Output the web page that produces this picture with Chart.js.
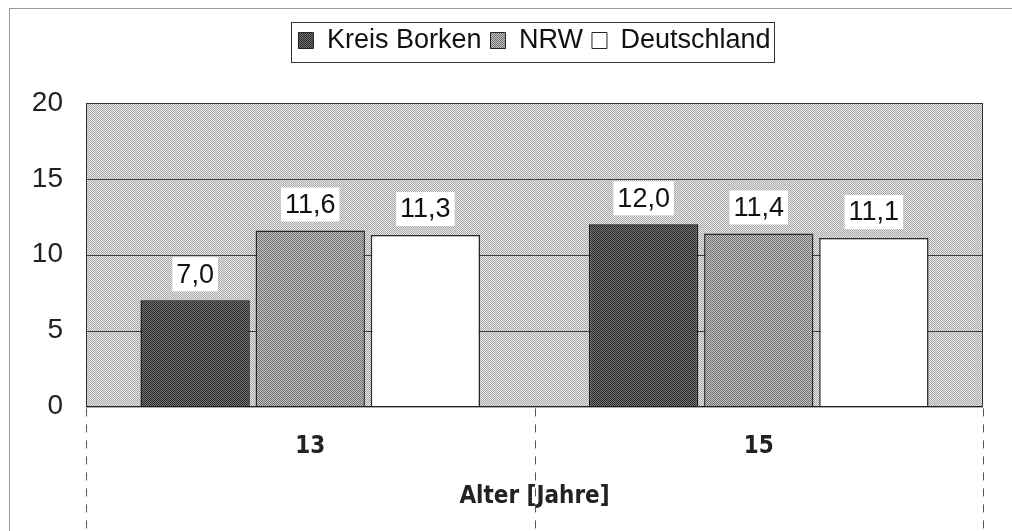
<!DOCTYPE html>
<html>
<head>
<meta charset="utf-8">
<script src="https://cdn.jsdelivr.net/npm/chart.js@4"></script>
<style>
html,body{margin:0;padding:0;background:#fff;}
#wrap{position:relative;width:1012px;height:531px;}
#frame{position:absolute;left:9px;top:8px;width:1010px;height:540px;border-left:1px solid #999;border-top:1px solid #999;pointer-events:none;}
canvas{position:absolute;left:0;top:0;}
</style>
</head>
<body>
<div id="wrap"><canvas id="c" width="1012" height="531"></canvas><div id="frame"></div></div>
<script>
const categories = ['13', '15'];
const seriesNames = ['Kreis Borken', 'NRW', 'Deutschland'];
const kreisBorken = [7.0, 12.0];
const nrw = [11.6, 11.4];
const deutschland = [11.3, 11.1];
const yTicks = [0, 5, 10, 15, 20];
const xTitle = 'Alter [Jahre]';

const SANS = '"Liberation Sans", Arial, sans-serif';
const NARROW = '"DejaVu Sans Condensed", "Liberation Sans", Arial, sans-serif';

function makePattern(a, b) {
  const p = document.createElement('canvas');
  p.width = 2; p.height = 2;
  const g = p.getContext('2d');
  g.fillStyle = a; g.fillRect(0, 0, 2, 2);
  g.fillStyle = b; g.fillRect(0, 0, 1, 1); g.fillRect(1, 1, 1, 1);
  return document.getElementById('c').getContext('2d').createPattern(p, 'repeat');
}
const bgPattern = makePattern('#e6e6e6', '#a9a9a9');
const darkPattern = makePattern('#747474', '#2a2a2a');
const midPattern = makePattern('#c4c4c4', '#707070');

const LEGEND_HEIGHT = 85;

const plotDeco = {
  id: 'plotDeco',
  beforeInit(chart) {
    const lg = chart.legend;
    if (lg) {
      const orig = lg.fit.bind(lg);
      lg.fit = function () { orig(); this.height = LEGEND_HEIGHT; };
    }
  },
  afterLayout(chart) {
    const lg = chart.legend;
    if (lg) {
      lg.left = chart.chartArea.left;
      lg.right = chart.chartArea.right;
      lg.adjustHitBoxes();
    }
  },
  beforeDatasetsDraw(chart) {
    const {ctx, chartArea: a} = chart;
    ctx.save();
    ctx.fillStyle = bgPattern;
    ctx.fillRect(a.left, a.top, a.right - a.left, a.bottom - a.top);
    const y = chart.scales.y;
    ctx.strokeStyle = '#3a3a3a';
    ctx.lineWidth = 1;
    [5, 10, 15].forEach(v => {
      const py = Math.round(y.getPixelForValue(v)) + 0.5;
      ctx.beginPath(); ctx.moveTo(a.left, py); ctx.lineTo(a.right, py); ctx.stroke();
    });
    ctx.strokeStyle = '#333';
    ctx.strokeRect(a.left + 0.5, a.top + 0.5, a.right - a.left - 1, a.bottom - a.top);
    ctx.restore();
  },
  afterDraw(chart) {
    const {ctx, chartArea: a} = chart;
    const x = chart.scales.x;
    ctx.save();
    const bounds = [a.left];
    for (let i = 0; i < categories.length - 1; i++) {
      bounds.push((x.getPixelForValue(i) + x.getPixelForValue(i + 1)) / 2);
    }
    bounds.push(a.right);
    ctx.strokeStyle = '#555';
    ctx.lineWidth = 1;
    ctx.setLineDash([8, 8]);
    bounds.forEach(bx => {
      const px = Math.round(bx) + 0.5;
      ctx.beginPath(); ctx.moveTo(px, a.bottom + 2); ctx.lineTo(px, chart.height); ctx.stroke();
    });
    ctx.setLineDash([]);
    ctx.strokeStyle = '#222';
    ctx.beginPath(); ctx.moveTo(a.left, Math.round(a.bottom) + 0.5); ctx.lineTo(a.right, Math.round(a.bottom) + 0.5); ctx.stroke();
    // data labels
    ctx.font = '27px ' + SANS;
    ctx.textAlign = 'center';
    ctx.textBaseline = 'middle';
    chart.data.datasets.forEach((ds, di) => {
      chart.getDatasetMeta(di).data.forEach((bar, i) => {
        const txt = ds.data[i].toFixed(1).replace('.', ',');
        const w = ctx.measureText(txt).width;
        const cy = bar.y - 26;
        ctx.fillStyle = '#fff';
        ctx.fillRect(bar.x - w / 2 - 4, cy - 17, w + 8, 34);
        ctx.fillStyle = '#111';
        ctx.fillText(txt, bar.x, cy + 1);
      });
    });
    // legend border
    const lg = chart.legend;
    if (lg && lg.legendHitBoxes && lg.legendHitBoxes.length) {
      const hb = lg.legendHitBoxes;
      const l = Math.min(...hb.map(h => h.left)) - 7;
      const r = Math.max(...hb.map(h => h.left + h.width)) + 4;
      const cy = lg.top + 24;
      ctx.strokeStyle = '#333';
      ctx.strokeRect(Math.round(l) + 0.5, Math.round(cy - 20) + 0.5, Math.round(r - l), 40);
    }
    ctx.restore();
  }
};

new Chart(document.getElementById('c'), {
  type: 'bar',
  data: {
    labels: categories,
    datasets: [
      {label: seriesNames[0], data: kreisBorken, backgroundColor: darkPattern, borderColor: '#1a1a1a', borderWidth: 1.5},
      {label: seriesNames[1], data: nrw, backgroundColor: midPattern, borderColor: '#2a2a2a', borderWidth: 1.5},
      {label: seriesNames[2], data: deutschland, backgroundColor: '#ffffff', borderColor: '#2a2a2a', borderWidth: 1.5}
    ]
  },
  options: {
    responsive: false,
    animation: false,
    events: [],
    layout: {padding: {left: 0, right: 29, top: 18, bottom: 0}},
    datasets: {bar: {categoryPercentage: 0.77, barPercentage: 0.95}},
    plugins: {
      tooltip: {enabled: false},
      legend: {
        display: true,
        position: 'top',
        labels: {
          font: {family: SANS, size: 27},
          color: '#111',
          boxWidth: 15,
          boxHeight: 16,
          padding: 9,
          generateLabels(chart) {
            return chart.data.datasets.map((ds, i) => ({
              text: ds.label,
              fillStyle: ds.backgroundColor,
              strokeStyle: '#222',
              lineWidth: 1,
              datasetIndex: i,
              hidden: false,
              fontColor: '#111'
            }));
          }
        }
      }
    },
    scales: {
      x: {
        grid: {display: false, drawTicks: false},
        border: {display: false},
        ticks: {
          padding: 26,
          color: '#222',
          font: {family: NARROW, size: 24, weight: 'bold'}
        },
        title: {
          display: true,
          text: xTitle,
          color: '#222',
          padding: {top: -5, bottom: 20},
          font: {family: NARROW, size: 24, weight: 'bold'}
        }
      },
      y: {
        min: 0,
        max: 20,
        afterBuildTicks(scale) { scale.ticks = yTicks.map(v => ({value: v})); },
        afterFit(scale) { scale.width = 86; },
        grid: {display: false, drawTicks: false},
        border: {display: false},
        ticks: {
          padding: 23,
          color: '#222',
          font: {family: SANS, size: 28}
        }
      }
    }
  },
  plugins: [plotDeco]
});
</script>
</body>
</html>
